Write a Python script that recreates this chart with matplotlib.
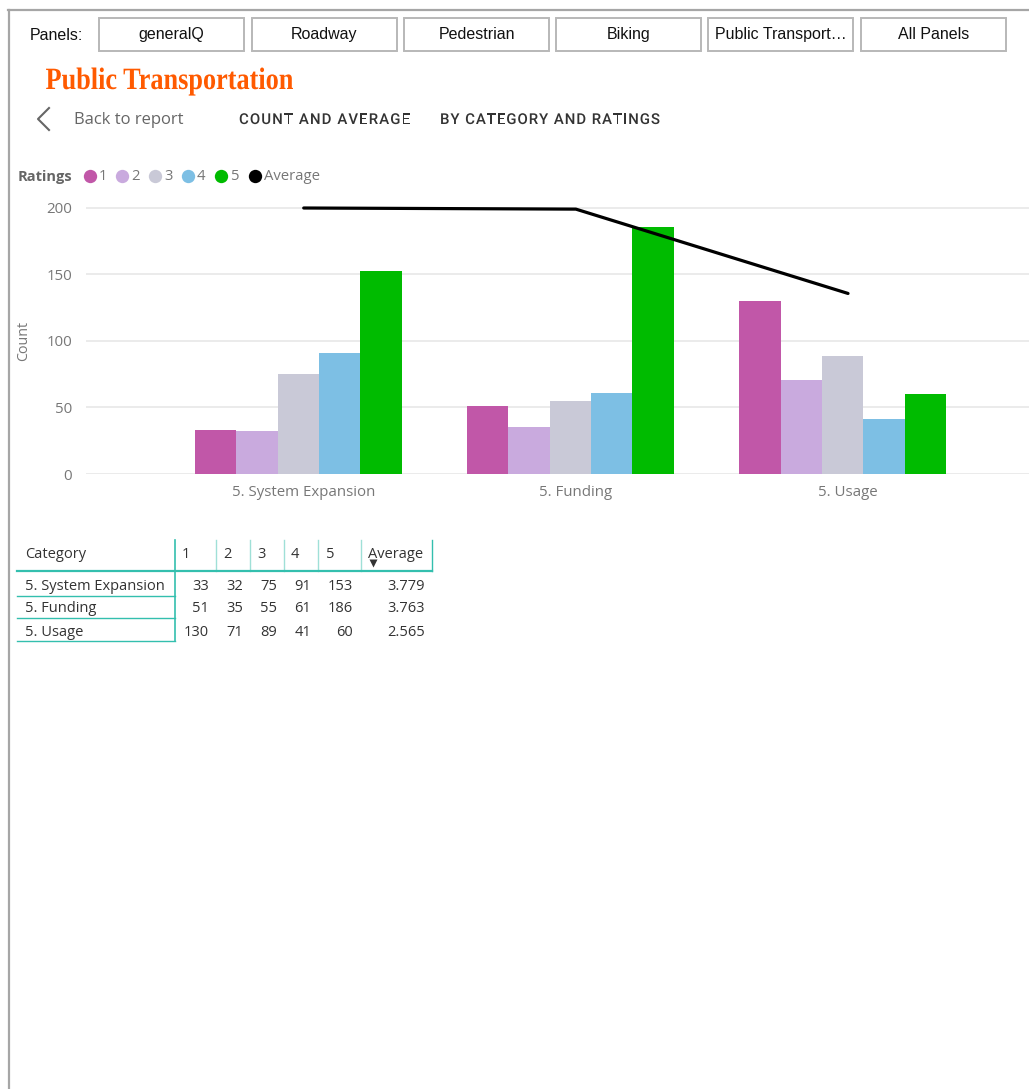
import numpy as np
import matplotlib.pyplot as plt
from matplotlib.patches import Rectangle, PathPatch
from matplotlib.lines import Line2D
from matplotlib.textpath import TextPath, TextToPath
from matplotlib.font_manager import FontProperties
from matplotlib.transforms import Affine2D, IdentityTransform

W, H = 1029, 1089

# Report data
panels = ["generalQ", "Roadway", "Pedestrian", "Biking", "Public Transport\u2026", "All Panels"]
categories = ["5. System Expansion", "5. Funding", "5. Usage"]
ratings = ["1", "2", "3", "4", "5"]
rating_1 = [33, 51, 130]
rating_2 = [32, 35, 71]
rating_3 = [75, 55, 89]
rating_4 = [91, 61, 41]
rating_5 = [153, 186, 60]
averages = [3.779, 3.763, 2.565]
y_ticks = [0, 50, 100, 150, 200]

rating_colors = ["#c157a8", "#c9aade", "#c9c9d7", "#7dbfe4", "#00bb00"]
counts = [rating_1, rating_2, rating_3, rating_4, rating_5]

UI = ["Open Sans", "DejaVu Sans"]
ARIAL = ["Liberation Sans", "DejaVu Sans"]
TEAL = "#33bfae"
TEAL_LIGHT = "#9fe0d7"


def fx(x):
    return x / W


def fy(y):
    return 1 - y / H


fig = plt.figure(figsize=(W / 100, H / 100), dpi=100)
fig.patch.set_facecolor("white")


def ftext(x, y, s, **kw):
    kw.setdefault("va", "center")
    fig.text(fx(x), fy(y), s, **kw)


def fline(xs, ys, **kw):
    fig.add_artist(Line2D([fx(x) for x in xs], [fy(y) for y in ys],
                          transform=fig.transFigure, **kw))


def frect(x0, y0, x1, y1, **kw):
    fig.add_artist(Rectangle((fx(x0), fy(y1)), (x1 - x0) / W, (y1 - y0) / H,
                             transform=fig.transFigure, **kw))


ttp = TextToPath()


def tracked_text(x, baseline, s, size, width, color, **font):
    # letter-spaced caps, spread to a given pixel width
    prop = FontProperties(size=size, **font)
    adv = [ttp.get_text_width_height_descent(ch, prop, ismath=False)[0] for ch in s]
    track = (width - sum(adv)) / (len(s) - 1)
    cur = x
    for ch, a in zip(s, adv):
        if ch != " ":
            tp = TextPath((0, 0), ch, size=size, prop=prop)
            fig.add_artist(PathPatch(tp, facecolor=color, edgecolor="none",
                                     transform=Affine2D().translate(cur, H - baseline) + IdentityTransform()))
        cur += a + track


# page frame
fline([8, W], [10, 10], color="#a6a6a6", lw=1.6)
fline([9, 9], [10, H], color="#a6a6a6", lw=1.6)

# panel buttons
ftext(30, 35, "Panels:", family=ARIAL, fontsize=11.5, color="#111111")
btn_left = [99, 252, 404, 556, 708, 861]
for name, x0 in zip(panels, btn_left):
    frect(x0, 18, x0 + 145, 51, facecolor="white", edgecolor="#b8b8b8", lw=1.4)
    ftext(x0 + 72.5, 34.5, name, family=ARIAL, fontsize=11.5, color="#111111", ha="center")

# title, drawn as a path so it can be condensed
tp = TextPath((0, 0), "Public Transportation", size=31,
              prop=FontProperties(family="Liberation Serif", weight="bold"))
ext = tp.get_extents()
sx = 247 / ext.width
title = PathPatch(tp, facecolor="#ff5a00", edgecolor="none",
                  transform=Affine2D().scale(sx, 1).translate(46 - ext.x0 * sx, H - 89) + IdentityTransform())
fig.add_artist(title)

# navigation row
fline([49, 38, 49], [108, 119, 130], color="#666666", lw=1.5)
ftext(74, 120, "Back to report", family=UI, fontsize=12, color="#666666")
tracked_text(239, 124, "COUNT AND AVERAGE", 15, 171, "#333333", family="Roboto", weight="medium")
tracked_text(440, 124, "BY CATEGORY AND RATINGS", 15, 220, "#333333", family="Roboto", weight="medium")

# legend
ftext(18, 177, "Ratings", family=UI, fontsize=10.5, weight="bold", color="#666666")
leg_x = [90, 122, 155, 188, 221, 255]
leg_labels = ratings + ["Average"]
leg_colors = rating_colors + ["black"]
for x, lab, c in zip(leg_x, leg_labels, leg_colors):
    fig.add_artist(Line2D([fx(x)], [fy(176)], marker="o", ms=9.6, color=c,
                          mec="none", transform=fig.transFigure))
    ftext(x + 9, 177, lab, family=UI, fontsize=10.7, color="#777777")

# clustered column chart
top_px, zero_px = 200, 474
px_per_unit = (474 - 208) / 200
ax = fig.add_axes([fx(86), fy(zero_px), (W - 86) / W, (zero_px - top_px) / H])
ax.set_xlim(-0.80, 2.665)
ax.set_ylim(0, (zero_px - top_px) / px_per_unit)
x = np.arange(len(categories))
bw = 0.152
group_shift = -0.02
for i, (vals, c) in enumerate(zip(counts, rating_colors)):
    ax.bar(x + group_shift + (i - 2) * bw, vals, width=bw, color=c, edgecolor="none", zorder=2)
ax.set_yticks(y_ticks)
ax.set_yticklabels([str(v) for v in y_ticks], family=UI, fontsize=10.8, color="#777777")
ax.tick_params(axis="y", length=0, pad=10)
ax.set_xticks(x)
ax.set_xticklabels(categories, family=UI, fontsize=10.8, color="#777777")
ax.tick_params(axis="x", length=0, pad=8)
ax.yaxis.grid(True, color="#e8e8e8", lw=1.2)
ax.set_axisbelow(True)
for s in ax.spines.values():
    s.set_visible(False)
ax.patch.set_alpha(0)

# average on a hidden secondary axis
ax2 = ax.twinx()
ax2.set_ylim(0, max(averages) * ax.get_ylim()[1] / 200)
ax2.plot(x, averages, color="black", lw=2.3, solid_capstyle="round", clip_on=False, zorder=3)
ax2.axis("off")

ftext(24, 341, "Count", family=UI, fontsize=10.3, color="#777777", rotation=90, ha="center")

# matrix table
col_lines = [216, 250, 284, 318, 361, 432]
fline([175, 175], [540, 641], color=TEAL, lw=1.2)
for cx in col_lines:
    fline([cx, cx], [540, 571], color=TEAL_LIGHT if cx != 432 else TEAL, lw=1.0)
fline([17, 432], [571, 571], color=TEAL, lw=1.6)
for ry in [596, 618, 641]:
    fline([17, 175], [ry, ry], color=TEAL, lw=1.0)

hdr_x = [182, 223, 257, 291, 326]
ftext(25, 554, "Category", family=UI, fontsize=10.5, color="#333333")
for hx, lab in zip(hdr_x, ratings):
    ftext(hx, 554, lab, family=UI, fontsize=10.5, color="#333333")
ftext(368, 554, "Average", family=UI, fontsize=10.5, color="#333333")
fig.add_artist(Line2D([fx(373)], [fy(563)], marker="v", ms=6, color="#333333",
                      mec="none", transform=fig.transFigure))

row_y = [586, 609, 632]
num_right = [209, 243, 277, 311, 353]
for r, (cat, ry) in enumerate(zip(categories, row_y)):
    ftext(25, ry, cat, family=UI, fontsize=10.5, color="#333333")
    for vals, nx in zip(counts, num_right):
        ftext(nx, ry, str(vals[r]), family=UI, fontsize=10.5, color="#333333", ha="right")
    ftext(425, ry, f"{averages[r]:.3f}", family=UI, fontsize=10.5, color="#333333", ha="right")

fig.savefig("out.png", dpi=100)
